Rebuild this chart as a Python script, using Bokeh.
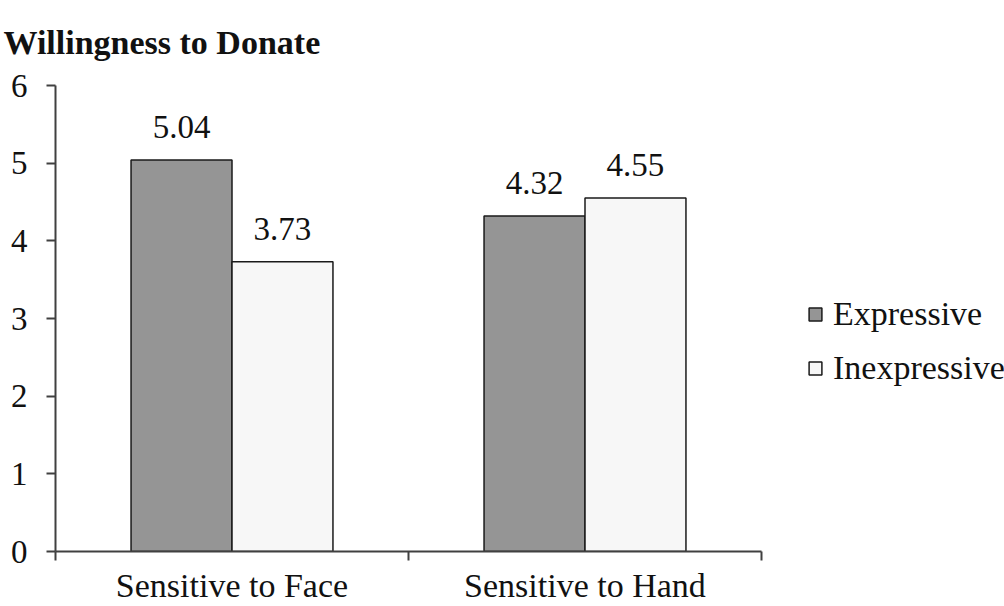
from bokeh.plotting import figure
from bokeh.models import (ColumnDataSource, FixedTicker, Legend, LegendItem, Range1d)
from bokeh.core.properties import value
from bokeh.embed import file_html
from bokeh.resources import INLINE

categories = ["Sensitive to Face", "Sensitive to Hand"]
series_names = ["Expressive", "Inexpressive"]
expressive = [5.04, 4.32]
inexpressive = [3.73, 4.55]
y_ticks = [0, 1, 2, 3, 4, 5, 6]

FONT = "Liberation Serif"
FS = "34px"
BAR_W = 0.286
colors = {"Expressive": "#959595", "Inexpressive": "#f7f7f7"}

centers = [i + 0.5 for i in range(len(categories))]

p = figure(frame_width=706, frame_height=466, output_backend="svg", toolbar_location=None,
           x_range=Range1d(0, len(categories)), y_range=Range1d(0, 6),
           min_border_left=55, min_border_right=0, min_border_top=85, min_border_bottom=54)
p.outline_line_color = None
p.xgrid.visible = False
p.ygrid.visible = False
p.background_fill_color = "white"
p.border_fill_color = "white"

p.title.text = "Willingness to Donate"
p.title.align = "left"
p.title.offset = -52
p.title.text_font = FONT
p.title.text_font_size = FS
p.title.text_font_style = "bold"
p.title.text_color = "#111111"
p.title.vertical_align = "top"
p.title.standoff = 45

renderers = {}
for k, (name, vals) in enumerate([("Expressive", expressive), ("Inexpressive", inexpressive)]):
    xs = [c + (k - 0.5) * BAR_W for c in centers]
    src = ColumnDataSource(dict(x=xs, top=vals, label=[f"{v:.2f}" for v in vals]))
    r = p.vbar(x="x", top="top", bottom=0, width=BAR_W, source=src,
               fill_color=colors[name], line_color="#1a1a1a", line_width=1.5)
    renderers[name] = r
    p.text(x="x", y="top", text="label", source=src, text_align="center",
           text_baseline="alphabetic", y_offset=-33, text_font=value(FONT),
           text_font_size="33px", text_color="#111111")

xa = p.xaxis[0]
xa.ticker = FixedTicker(ticks=centers, minor_ticks=[0, 1, 2])
xa.major_label_overrides = {c: cat for c, cat in zip(centers, categories)}
xa.major_tick_line_color = None
xa.major_tick_out = 9
xa.major_tick_in = 0
xa.minor_tick_out = 9
xa.minor_tick_in = 0
xa.minor_tick_line_color = "#404040"
xa.minor_tick_line_width = 2
xa.axis_line_color = "#404040"
xa.axis_line_width = 2
xa.major_label_text_font = FONT
xa.major_label_text_font_size = FS
xa.major_label_text_color = "#111111"
xa.major_label_standoff = 6

ya = p.yaxis[0]
ya.ticker = FixedTicker(ticks=y_ticks, minor_ticks=[])
ya.major_tick_out = 9
ya.major_tick_in = 0
ya.major_tick_line_color = "#404040"
ya.major_tick_line_width = 2
ya.axis_line_color = "#404040"
ya.axis_line_width = 2
ya.major_label_text_font = FONT
ya.major_label_text_font_size = "33px"
ya.major_label_text_color = "#111111"
ya.major_label_standoff = 19

legend = Legend(items=[LegendItem(label=n, renderers=[renderers[n]]) for n in series_names],
                location=(46, 164), orientation="vertical",
                glyph_width=16, glyph_height=16, label_height=30, spacing=16,
                label_standoff=10, padding=0, margin=0,
                border_line_color=None, background_fill_alpha=0,
                label_text_font=FONT, label_text_font_size=FS,
                label_text_color="#111111", label_text_baseline="middle")
p.add_layout(legend, "right")

open("out.html", "w").write(file_html(p, INLINE))
